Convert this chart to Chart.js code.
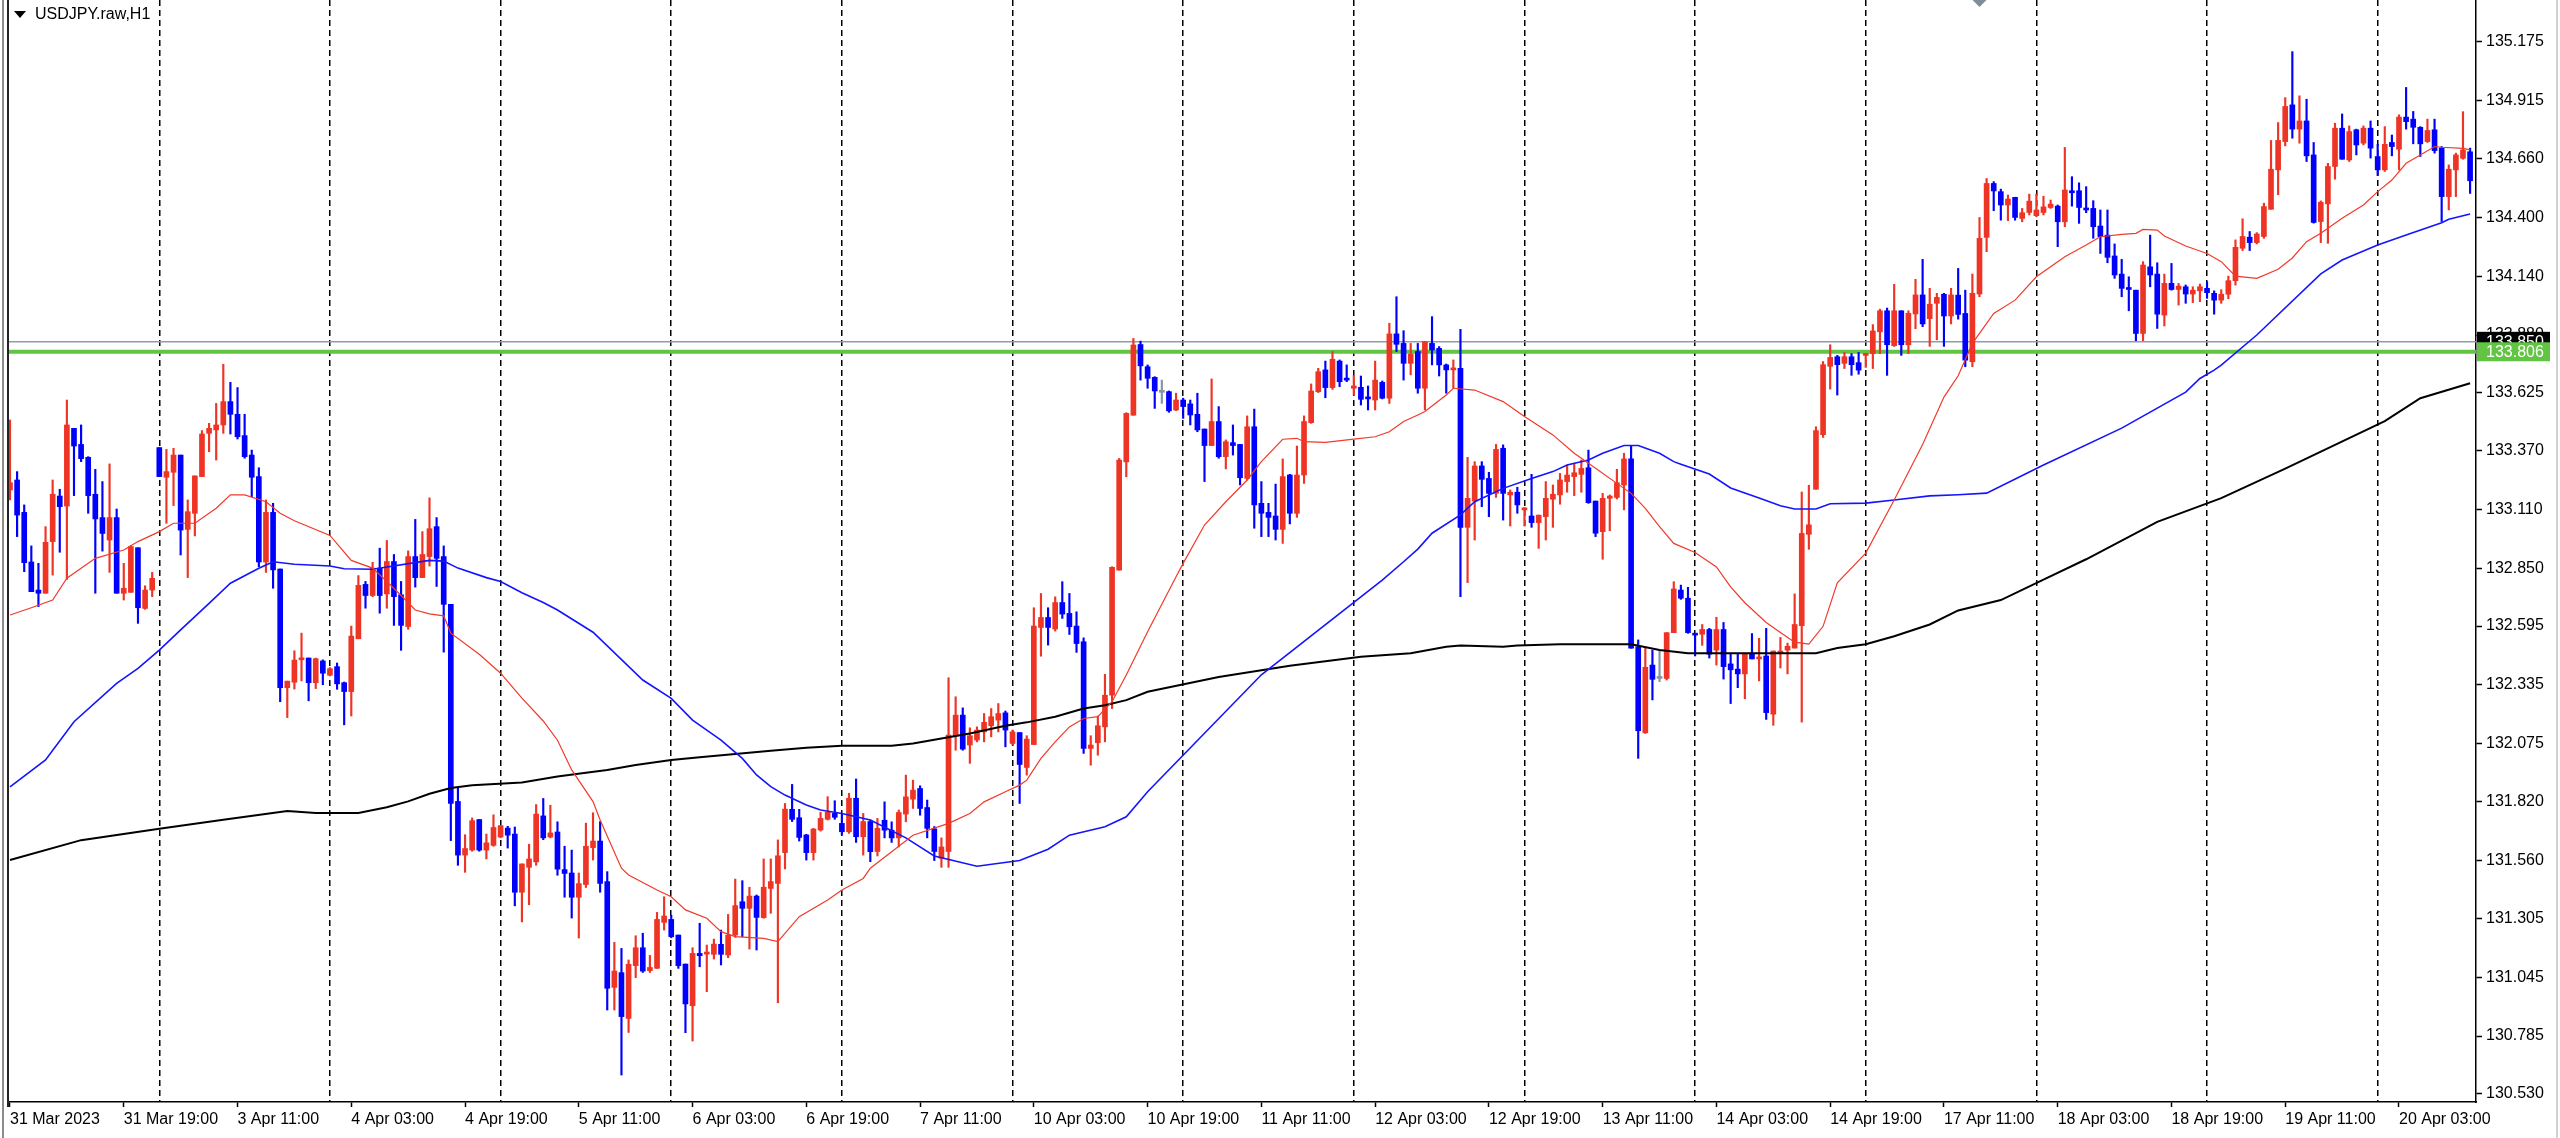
<!DOCTYPE html>
<html>
<head>
<meta charset="utf-8">
<title>USDJPY.raw,H1</title>
<script src="https://cdn.jsdelivr.net/npm/chart.js@4.4.1/dist/chart.umd.min.js"></script>
<style>
    html, body { margin: 0; padding: 0; background: #ffffff; overflow: hidden; }
    #wrap { position: relative; width: 2560px; height: 1138px; }
</style>
</head>
<body>
<div id="wrap"><canvas id="priceChart" width="2560" height="1138"></canvas></div>
<script>
// ============================================
// DATA  (H1 bars, bar 0 = 31 Mar 2023 03:00)
// ============================================
const chartTitle = 'USDJPY.raw,H1';

const opens = [
    133.196, 133.240, 133.097, 132.878, 132.754, 132.740, 132.968, 133.169, 133.125, 133.468,
    133.397, 133.340, 133.177, 133.074, 132.975, 133.074, 132.740, 132.744, 132.941, 132.673,
    132.754, 133.383, 133.252, 133.274, 133.350, 133.022, 133.093, 133.255, 133.446, 133.461,
    133.483, 133.586, 133.530, 133.436, 133.350, 133.255, 132.878, 133.097, 132.847, 132.323,
    132.347, 132.446, 132.454, 132.345, 132.441, 132.378, 132.416, 132.345, 132.306, 132.539,
    132.779, 132.730, 132.851, 132.737, 132.880, 132.733, 132.593, 132.902, 132.809, 132.902,
    133.034, 132.902, 132.691, 131.821, 131.584, 131.606, 131.741, 131.606, 131.627, 131.664,
    131.703, 131.677, 131.420, 131.530, 131.554, 131.757, 131.664, 131.686, 131.520, 131.505,
    131.398, 131.454, 131.617, 131.646, 131.467, 131.000, 131.065, 130.863, 131.096, 131.175,
    131.074, 131.084, 131.287, 131.300, 131.231, 131.103, 130.919, 131.150, 131.147, 131.146,
    131.190, 131.143, 131.231, 131.378, 131.349, 131.403, 131.308, 131.437, 131.459, 131.595,
    131.786, 131.749, 131.673, 131.595, 131.695, 131.742, 131.768, 131.724, 131.687, 131.835,
    131.665, 131.732, 131.600, 131.738, 131.694, 131.660, 131.765, 131.831, 131.878, 131.794,
    131.700, 131.570, 131.600, 132.111, 132.202, 132.070, 132.092, 132.128, 132.155, 132.180,
    132.212, 132.077, 132.125, 131.971, 132.072, 132.589, 132.633, 132.582, 132.699, 132.651,
    132.595, 132.526, 132.055, 132.080, 132.150, 132.290, 132.842, 133.320, 133.526, 133.838,
    133.740, 133.693, 133.627, 133.630, 133.549, 133.593, 133.576, 133.530, 133.465, 133.392,
    133.498, 133.343, 133.405, 133.397, 133.247, 133.475, 133.137, 133.097, 133.081, 133.022,
    133.262, 133.093, 133.262, 133.493, 133.630, 133.726, 133.648, 133.765, 133.686, 133.645,
    133.649, 133.603, 133.593, 133.671, 133.601, 133.885, 133.843, 133.755, 133.807, 133.645,
    133.843, 133.821, 133.748, 133.726, 133.733, 133.031, 133.147, 133.302, 133.247, 133.181,
    133.380, 133.174, 133.186, 133.108, 133.081, 133.052, 133.078, 133.155, 133.174, 133.233,
    133.255, 133.265, 133.294, 133.147, 133.012, 133.159, 133.163, 133.218, 133.333, 132.504,
    132.124, 132.423, 132.364, 132.364, 132.566, 132.754, 132.718, 132.562, 132.559, 132.580,
    132.489, 132.580, 132.428, 132.405, 132.384, 132.475, 132.450, 132.463, 132.206, 132.475,
    132.489, 132.498, 132.597, 133.000, 133.199, 133.440, 133.742, 133.784, 133.755, 133.784,
    133.758, 133.790, 133.798, 133.894, 133.987, 133.833, 133.987, 133.837, 133.973, 134.057,
    133.952, 134.020, 134.060, 133.964, 134.056, 133.975, 133.762, 134.061, 134.311, 134.549,
    134.513, 134.454, 134.488, 134.395, 134.421, 134.407, 134.421, 134.443, 134.449, 134.380,
    134.517, 134.517, 134.439, 134.439, 134.361, 134.321, 134.229, 134.149, 134.086, 134.078,
    133.887, 134.181, 134.149, 133.968, 134.108, 134.081, 134.093, 134.061, 134.075, 134.086,
    134.064, 134.034, 134.060, 134.120, 134.263, 134.312, 134.288, 134.315, 134.435, 134.609,
    134.734, 134.896, 134.789, 134.825, 134.675, 134.381, 134.459, 134.624, 134.793, 134.653,
    134.786, 134.727, 134.793, 134.668, 134.609, 134.730, 134.700, 134.842, 134.833, 134.797,
    134.734, 134.786, 134.705, 134.491, 134.609, 134.660, 134.689
];

const highs = [
    133.505, 133.277, 133.130, 132.949, 132.872, 133.034, 133.240, 133.199, 133.593, 133.468,
    133.483, 133.343, 133.287, 133.233, 133.311, 133.112, 132.872, 132.950, 132.941, 132.773,
    132.832, 133.383, 133.375, 133.380, 133.350, 133.152, 133.258, 133.458, 133.490, 133.578,
    133.751, 133.671, 133.648, 133.530, 133.372, 133.294, 133.152, 133.137, 132.847, 132.352,
    132.486, 132.564, 132.454, 132.454, 132.446, 132.412, 132.432, 132.348, 132.595, 132.818,
    132.792, 132.877, 132.939, 132.973, 132.911, 132.792, 132.927, 133.066, 133.012, 133.161,
    133.074, 132.949, 132.691, 131.880, 131.674, 131.748, 131.741, 131.677, 131.762, 131.714,
    131.711, 131.708, 131.545, 131.632, 131.807, 131.834, 131.804, 131.731, 131.623, 131.606,
    131.505, 131.725, 131.771, 131.732, 131.511, 131.199, 131.172, 131.121, 131.228, 131.239,
    131.141, 131.331, 131.400, 131.319, 131.231, 131.103, 131.175, 131.283, 131.187, 131.213,
    131.253, 131.322, 131.478, 131.471, 131.442, 131.408, 131.567, 131.567, 131.651, 131.812,
    131.896, 131.786, 131.676, 131.702, 131.773, 131.842, 131.824, 131.768, 131.857, 131.920,
    131.768, 131.739, 131.746, 131.819, 131.731, 131.783, 131.937, 131.915, 131.890, 131.827,
    131.710, 131.660, 132.367, 132.283, 132.234, 132.146, 132.150, 132.209, 132.231, 132.253,
    132.220, 132.136, 132.125, 132.111, 132.676, 132.739, 132.676, 132.724, 132.791, 132.739,
    132.658, 132.543, 132.111, 132.198, 132.382, 132.857, 133.335, 133.537, 133.865, 133.853,
    133.748, 133.696, 133.681, 133.633, 133.623, 133.601, 133.593, 133.623, 133.465, 133.686,
    133.564, 133.417, 133.483, 133.397, 133.523, 133.553, 133.233, 133.137, 133.222, 133.333,
    133.265, 133.390, 133.523, 133.664, 133.733, 133.765, 133.807, 133.770, 133.748, 133.701,
    133.699, 133.655, 133.765, 133.677, 133.932, 134.049, 133.899, 133.843, 133.843, 133.851,
    133.961, 133.829, 133.752, 133.770, 133.905, 133.340, 133.321, 133.321, 133.274, 133.397,
    133.395, 133.196, 133.208, 133.118, 133.265, 133.085, 133.233, 133.218, 133.269, 133.306,
    133.314, 133.328, 133.372, 133.147, 133.181, 133.174, 133.287, 133.358, 133.392, 132.534,
    132.497, 132.489, 132.489, 132.566, 132.791, 132.776, 132.766, 132.562, 132.602, 132.585,
    132.634, 132.611, 132.475, 132.475, 132.475, 132.562, 132.541, 132.585, 132.485, 132.545,
    132.520, 132.737, 133.187, 133.217, 133.475, 133.763, 133.837, 133.790, 133.803, 133.798,
    133.803, 133.798, 133.926, 133.994, 133.999, 134.104, 133.987, 133.987, 134.126, 134.214,
    134.086, 134.064, 134.064, 134.086, 134.174, 134.078, 134.149, 134.399, 134.571, 134.557,
    134.524, 134.498, 134.488, 134.439, 134.502, 134.502, 134.493, 134.476, 134.454, 134.708,
    134.579, 134.552, 134.535, 134.473, 134.432, 134.432, 134.282, 134.214, 134.137, 134.078,
    134.204, 134.321, 134.199, 134.149, 134.196, 134.108, 134.101, 134.093, 134.105, 134.115,
    134.075, 134.080, 134.140, 134.300, 134.393, 134.337, 134.332, 134.462, 134.739, 134.818,
    134.928, 135.131, 134.936, 134.921, 134.730, 134.472, 134.638, 134.815, 134.856, 134.803,
    134.789, 134.803, 134.825, 134.722, 134.800, 134.763, 134.852, 134.973, 134.867, 134.800,
    134.833, 134.833, 134.712, 134.631, 134.683, 134.866, 134.705
];

const lows = [
    133.152, 132.990, 132.835, 132.747, 132.681, 132.740, 132.820, 132.921, 132.801, 133.171,
    133.321, 133.093, 132.740, 132.926, 132.832, 132.740, 132.710, 132.744, 132.607, 132.669,
    132.725, 133.255, 133.049, 133.127, 132.909, 132.809, 132.993, 133.255, 133.365, 133.328,
    133.446, 133.443, 133.421, 133.336, 133.166, 132.857, 132.832, 132.762, 132.261, 132.191,
    132.317, 132.353, 132.265, 132.319, 132.336, 132.375, 132.316, 132.159, 132.198, 132.539,
    132.674, 132.725, 132.652, 132.674, 132.598, 132.488, 132.581, 132.767, 132.809, 132.860,
    132.770, 132.480, 131.648, 131.539, 131.508, 131.601, 131.601, 131.567, 131.623, 131.660,
    131.615, 131.360, 131.289, 131.365, 131.539, 131.652, 131.660, 131.495, 131.398, 131.306,
    131.218, 131.441, 131.562, 131.420, 130.900, 130.900, 130.613, 130.801, 131.043, 131.066,
    131.066, 131.084, 131.253, 131.219, 131.084, 130.800, 130.763, 131.091, 130.981, 131.125,
    131.099, 131.131, 131.221, 131.224, 131.169, 131.165, 131.305, 131.327, 130.932, 131.523,
    131.732, 131.646, 131.562, 131.562, 131.690, 131.739, 131.742, 131.673, 131.680, 131.640,
    131.584, 131.555, 131.580, 131.660, 131.640, 131.620, 131.731, 131.790, 131.760, 131.660,
    131.560, 131.530, 131.530, 132.047, 132.047, 131.989, 132.084, 132.084, 132.106, 132.128,
    132.062, 132.070, 131.812, 131.937, 132.072, 132.462, 132.511, 132.573, 132.629, 132.558,
    132.479, 132.033, 131.981, 132.025, 132.084, 132.231, 132.842, 133.254, 133.526, 133.681,
    133.645, 133.556, 133.578, 133.539, 133.546, 133.512, 133.483, 133.453, 133.233, 133.392,
    133.336, 133.289, 133.350, 133.218, 133.240, 133.027, 132.990, 132.990, 132.975, 132.960,
    133.046, 133.075, 133.225, 133.490, 133.626, 133.603, 133.640, 133.652, 133.674, 133.615,
    133.571, 133.549, 133.549, 133.598, 133.578, 133.807, 133.681, 133.704, 133.623, 133.549,
    133.748, 133.699, 133.623, 133.645, 132.725, 132.787, 132.975, 133.122, 133.078, 133.163,
    133.063, 133.037, 133.093, 133.037, 133.031, 132.938, 132.975, 133.031, 133.133, 133.186,
    133.171, 133.186, 133.137, 132.990, 132.890, 133.016, 133.156, 133.108, 132.497, 132.011,
    132.121, 132.269, 132.350, 132.357, 132.566, 132.713, 132.563, 132.463, 132.510, 132.454,
    132.423, 132.361, 132.253, 132.323, 132.274, 132.450, 132.353, 132.183, 132.157, 132.410,
    132.384, 132.498, 132.171, 132.934, 133.199, 133.428, 133.641, 133.615, 133.732, 133.702,
    133.707, 133.737, 133.732, 133.798, 133.702, 133.830, 133.790, 133.798, 133.908, 133.917,
    133.830, 133.859, 133.830, 133.929, 133.950, 133.740, 133.740, 134.049, 134.248, 134.429,
    134.387, 134.385, 134.387, 134.380, 134.410, 134.402, 134.410, 134.439, 134.270, 134.358,
    134.449, 134.373, 134.420, 134.307, 134.240, 134.199, 134.130, 134.049, 133.987, 133.855,
    133.855, 134.093, 133.909, 133.920, 134.078, 134.012, 134.020, 134.023, 134.027, 134.042,
    133.972, 134.020, 134.040, 134.100, 134.253, 134.253, 134.282, 134.307, 134.435, 134.499,
    134.715, 134.749, 134.727, 134.646, 134.374, 134.288, 134.285, 134.568, 134.656, 134.646,
    134.675, 134.719, 134.661, 134.584, 134.602, 134.671, 134.609, 134.789, 134.724, 134.668,
    134.730, 134.683, 134.381, 134.432, 134.491, 134.656, 134.505
];

const closes = [
    133.228, 133.085, 132.875, 132.747, 132.740, 132.965, 133.177, 133.122, 133.483, 133.390,
    133.334, 133.171, 133.068, 133.004, 133.074, 132.740, 132.762, 132.946, 132.676, 132.754,
    132.806, 133.255, 133.277, 133.350, 133.019, 133.100, 133.258, 133.443, 133.468, 133.483,
    133.586, 133.530, 133.431, 133.343, 133.252, 132.878, 133.097, 132.843, 132.323, 132.352,
    132.445, 132.454, 132.345, 132.451, 132.387, 132.407, 132.340, 132.306, 132.551, 132.775,
    132.730, 132.851, 132.730, 132.880, 132.725, 132.598, 132.902, 132.809, 132.911, 133.025,
    132.894, 132.691, 131.812, 131.584, 131.613, 131.736, 131.606, 131.638, 131.706, 131.714,
    131.672, 131.420, 131.545, 131.567, 131.765, 131.660, 131.682, 131.522, 131.503, 131.398,
    131.458, 131.623, 131.646, 131.459, 130.996, 131.072, 130.871, 131.102, 131.175, 131.072,
    131.088, 131.300, 131.315, 131.224, 131.096, 130.927, 131.150, 131.140, 131.153, 131.191,
    131.146, 131.231, 131.361, 131.349, 131.403, 131.309, 131.442, 131.467, 131.581, 131.787,
    131.742, 131.662, 131.595, 131.699, 131.746, 131.773, 131.751, 131.687, 131.835, 131.665,
    131.732, 131.599, 131.702, 131.694, 131.660, 131.772, 131.841, 131.871, 131.790, 131.702,
    131.600, 131.620, 132.114, 132.202, 132.052, 132.111, 132.136, 132.170, 132.195, 132.209,
    132.136, 132.128, 131.984, 132.096, 132.595, 132.633, 132.589, 132.699, 132.648, 132.592,
    132.518, 132.055, 132.070, 132.155, 132.290, 132.854, 133.328, 133.534, 133.836, 133.744,
    133.689, 133.633, 133.627, 133.545, 133.593, 133.564, 133.527, 133.461, 133.392, 133.498,
    133.343, 133.409, 133.392, 133.250, 133.475, 133.130, 133.093, 133.075, 133.022, 133.255,
    133.093, 133.262, 133.498, 133.633, 133.718, 133.648, 133.773, 133.674, 133.681, 133.655,
    133.596, 133.598, 133.681, 133.601, 133.885, 133.839, 133.755, 133.796, 133.645, 133.851,
    133.814, 133.748, 133.726, 133.733, 133.031, 133.159, 133.302, 133.243, 133.181, 133.375,
    133.181, 133.186, 133.130, 133.115, 133.052, 133.085, 133.159, 133.177, 133.240, 133.262,
    133.272, 133.291, 133.140, 133.005, 133.159, 133.169, 133.228, 133.333, 132.497, 132.133,
    132.413, 132.360, 132.364, 132.566, 132.759, 132.718, 132.566, 132.555, 132.580, 132.471,
    132.580, 132.416, 132.402, 132.384, 132.475, 132.450, 132.457, 132.213, 132.485, 132.485,
    132.506, 132.602, 133.004, 133.042, 133.458, 133.749, 133.781, 133.749, 133.784, 133.749,
    133.725, 133.797, 133.898, 133.987, 133.837, 133.987, 133.837, 133.976, 134.057, 133.929,
    134.016, 134.046, 133.964, 134.057, 133.971, 133.769, 134.064, 134.307, 134.549, 134.516,
    134.454, 134.480, 134.399, 134.420, 134.471, 134.432, 134.446, 134.458, 134.380, 134.520,
    134.508, 134.443, 134.432, 134.358, 134.314, 134.223, 134.145, 134.086, 134.081, 133.887,
    134.189, 134.145, 133.972, 134.108, 134.081, 134.096, 134.061, 134.078, 134.093, 134.067,
    134.034, 134.060, 134.120, 134.267, 134.315, 134.288, 134.326, 134.447, 134.612, 134.739,
    134.889, 134.789, 134.825, 134.671, 134.377, 134.466, 134.624, 134.793, 134.656, 134.778,
    134.719, 134.793, 134.705, 134.609, 134.722, 134.712, 134.842, 134.822, 134.797, 134.724,
    134.783, 134.694, 134.491, 134.612, 134.675, 134.697, 134.561
];

// Moving averages (bar index, price)
const maFastBars = [0, 3, 6, 8, 12, 16, 18, 21, 23, 26, 29, 31, 33, 36, 38, 40, 45, 48, 51, 53, 56, 57, 59, 61, 62, 66, 69, 72, 75, 77, 79, 82, 83, 86, 87, 91, 93, 95, 98, 100, 102, 106, 108, 111, 115, 117, 120, 121, 127, 132, 135, 137, 140, 142, 143, 145, 147, 149, 151, 153, 155, 157, 160, 164, 165, 168, 171, 174, 176, 179, 181, 182, 185, 189, 192, 194, 196, 198, 199, 202, 203, 206, 210, 213, 217, 220, 223, 226, 228, 230, 232, 234, 237, 240, 242, 244, 247, 249, 251, 253, 255, 257, 261, 265, 269, 272, 274, 276, 279, 282, 285, 289, 292, 294, 297, 299, 300, 302, 303, 306, 309, 311, 313, 316, 319, 321, 323, 325, 328, 331, 333, 335, 337, 339, 341, 342, 345, 346];
const maFastValues = [132.644, 132.676, 132.710, 132.806, 132.894, 132.931, 132.968, 133.012, 133.049, 133.049, 133.115, 133.174, 133.174, 133.144, 133.093, 133.060, 132.995, 132.885, 132.851, 132.792, 132.699, 132.666, 132.649, 132.640, 132.564, 132.471, 132.387, 132.277, 132.176, 132.091, 131.960, 131.820, 131.739, 131.526, 131.496, 131.430, 131.400, 131.342, 131.305, 131.246, 131.224, 131.216, 131.202, 131.312, 131.386, 131.430, 131.481, 131.526, 131.672, 131.724, 131.768, 131.819, 131.864, 131.893, 131.915, 132.011, 132.084, 132.150, 132.187, 132.195, 132.261, 132.379, 132.570, 132.813, 132.872, 133.041, 133.144, 133.240, 133.321, 133.420, 133.424, 133.409, 133.406, 133.420, 133.431, 133.453, 133.498, 133.527, 133.542, 133.615, 133.645, 133.637, 133.586, 133.520, 133.439, 133.358, 133.292, 133.225, 133.181, 133.115, 133.034, 132.960, 132.920, 132.856, 132.768, 132.698, 132.611, 132.567, 132.524, 132.515, 132.594, 132.786, 132.917, 133.152, 133.397, 133.606, 133.700, 133.843, 133.975, 134.034, 134.137, 134.226, 134.277, 134.314, 134.324, 134.329, 134.346, 134.343, 134.317, 134.273, 134.240, 134.204, 134.140, 134.130, 134.170, 134.220, 134.292, 134.329, 134.395, 134.454, 134.513, 134.564, 134.638, 134.675, 134.712, 134.709, 134.704, 134.697];

const maMidBars = [0, 5, 9, 15, 18, 21, 24, 28, 31, 35, 37, 40, 45, 47, 51, 59, 61, 63, 67, 69, 72, 75, 77, 82, 89, 93, 96, 100, 103, 105, 107, 109, 112, 114, 117, 121, 126, 130, 136, 142, 146, 149, 154, 157, 160, 176, 193, 196, 198, 200, 204, 206, 210, 214, 217, 219, 222, 224, 227, 229, 232, 234, 235, 239, 242, 246, 249, 251, 254, 256, 261, 265, 270, 274, 278, 286, 297, 306, 308, 310, 311, 316, 325, 328, 333, 337, 342, 343, 346];
const maMidValues = [131.885, 132.004, 132.173, 132.342, 132.408, 132.489, 132.578, 132.695, 132.784, 132.850, 132.879, 132.868, 132.860, 132.848, 132.846, 132.885, 132.882, 132.851, 132.809, 132.792, 132.742, 132.699, 132.666, 132.568, 132.357, 132.276, 132.180, 132.092, 132.011, 131.938, 131.886, 131.849, 131.805, 131.783, 131.768, 131.739, 131.660, 131.580, 131.535, 131.560, 131.610, 131.672, 131.709, 131.753, 131.864, 132.380, 132.798, 132.879, 132.935, 133.005, 133.086, 133.144, 133.203, 133.247, 133.277, 133.306, 133.328, 133.358, 133.392, 133.392, 133.358, 133.321, 133.310, 133.266, 133.205, 133.161, 133.126, 133.112, 133.112, 133.135, 133.138, 133.152, 133.170, 133.175, 133.182, 133.306, 133.469, 133.628, 133.688, 133.725, 133.747, 133.880, 134.150, 134.211, 134.277, 134.322, 134.376, 134.391, 134.414];

const maSlowBars = [0, 10, 21, 30, 39, 43, 49, 53, 56, 59, 62, 65, 72, 77, 81, 84, 88, 93, 97, 102, 107, 112, 117, 124, 127, 131, 135, 140, 143, 147, 151, 154, 157, 160, 170, 180, 190, 197, 202, 204, 210, 212, 218, 228, 232, 236, 254, 257, 261, 265, 270, 274, 280, 286, 292, 302, 311, 320, 334, 339, 346];
const maSlowValues = [131.562, 131.650, 131.700, 131.740, 131.779, 131.770, 131.770, 131.795, 131.821, 131.855, 131.880, 131.892, 131.905, 131.931, 131.948, 131.960, 131.982, 132.004, 132.016, 132.030, 132.045, 132.058, 132.067, 132.067, 132.077, 132.099, 132.121, 132.155, 132.170, 132.195, 132.231, 132.246, 132.268, 132.305, 132.370, 132.420, 132.460, 132.475, 132.504, 132.509, 132.504, 132.509, 132.515, 132.515, 132.489, 132.475, 132.475, 132.498, 132.515, 132.550, 132.602, 132.664, 132.710, 132.800, 132.890, 133.055, 133.160, 133.290, 133.500, 133.601, 133.667];

// Axis ticks
const xTickBars = [0, 16, 32, 48, 64, 80, 96, 112, 128, 144, 160, 176, 192, 208, 224, 240, 256, 272, 288, 304, 320, 336];
const xTickLabels = ['31 Mar 2023', '31 Mar 19:00', '3 Apr 11:00', '4 Apr 03:00', '4 Apr 19:00', '5 Apr 11:00',
    '6 Apr 03:00', '6 Apr 19:00', '7 Apr 11:00', '10 Apr 03:00', '10 Apr 19:00', '11 Apr 11:00',
    '12 Apr 03:00', '12 Apr 19:00', '13 Apr 11:00', '14 Apr 03:00', '14 Apr 19:00', '17 Apr 11:00',
    '18 Apr 03:00', '18 Apr 19:00', '19 Apr 11:00', '20 Apr 03:00'];
const daySeparatorBars = [21, 45, 69, 93, 117, 141, 165, 189, 213, 237, 261, 285, 309, 333];
const yTickValues = [135.175, 134.915, 134.660, 134.400, 134.140, 133.880, 133.625, 133.370, 133.110,
    132.850, 132.595, 132.335, 132.075, 131.820, 131.560, 131.305, 131.045, 130.785, 130.530];

// Horizontal levels
const levelGreen = 133.806;
const levelGray = 133.850;
const markerBar = 277;

// ============================================
// CONFIGURATION
// ============================================
const X_MIN = -0.14;
const X_MAX = 346.83;
const Y_MIN = 130.494;
const Y_MAX = 135.359;

const COLORS = {
    up: '#ee3424',
    down: '#0000ff',
    doji: '#8794a6',
    maFast: '#f03a2a',
    maMid: '#1414ff',
    maSlow: '#000000',
    green: '#62c443',
    gray: '#8e9bb0'
};

const FONT = '"Liberation Sans", Arial, sans-serif';

Chart.defaults.font.family = FONT;
Chart.defaults.font.size = 16;
Chart.defaults.color = '#000000';

// ============================================
// HELPERS
// ============================================
const barIndex = opens.map((_, i) => i);

function candleColor(i) {
    if (closes[i] > opens[i]) return COLORS.up;
    if (closes[i] < opens[i]) return COLORS.down;
    return COLORS.doji;
}

function toPoints(bars, values) {
    return bars.map((b, i) => ({ x: b, y: values[i] }));
}

function levelLine(value) {
    return [{ x: X_MIN, y: value }, { x: X_MAX, y: value }];
}

// ============================================
// OVERLAY PLUGIN (title, frame, price tags)
// ============================================
const overlayPlugin = {
    id: 'overlay',
    beforeDraw(chart) {
        const { ctx } = chart;
        ctx.save();
        ctx.fillStyle = '#000000';
        ctx.beginPath();
        ctx.moveTo(14, 11);
        ctx.lineTo(26, 11);
        ctx.lineTo(20, 18);
        ctx.closePath();
        ctx.fill();
        ctx.font = `16px ${FONT}`;
        ctx.textAlign = 'left';
        ctx.textBaseline = 'middle';
        ctx.fillText(chartTitle, 35, 15);
        ctx.restore();
    },
    afterDraw(chart) {
        const { ctx, chartArea, scales } = chart;
        ctx.save();

        // left frame lines
        ctx.fillStyle = '#8c8c8c';
        ctx.fillRect(2, 0, 2, chart.height);
        ctx.fillStyle = '#222222';
        ctx.fillRect(chartArea.left - 2, 0, 2, chartArea.bottom + 5);

        // window edge on the right
        ctx.fillStyle = '#d2d2d2';
        ctx.fillRect(chart.width - 4, 0, 2, chart.height);

        // small trade marker at the top
        const mx = scales.x.getPixelForValue(markerBar);
        ctx.fillStyle = '#7f8c9c';
        ctx.beginPath();
        ctx.moveTo(mx - 7, 0);
        ctx.lineTo(mx + 7, 0);
        ctx.lineTo(mx, 7);
        ctx.closePath();
        ctx.fill();

        // price tags on the axis
        const x0 = chartArea.right + 1;
        ctx.font = `16px ${FONT}`;
        ctx.textAlign = 'left';
        ctx.textBaseline = 'middle';

        const yGray = scales.y.getPixelForValue(levelGray);
        ctx.fillStyle = '#000000';
        ctx.fillRect(x0, yGray - 10, 73, 20);
        ctx.fillStyle = '#ffffff';
        ctx.fillText(levelGray.toFixed(3), x0 + 9, yGray + 1);

        const yGreen = scales.y.getPixelForValue(levelGreen);
        ctx.fillStyle = COLORS.green;
        ctx.fillRect(x0, yGreen - 9.5, 73, 19);
        ctx.fillStyle = '#ffffff';
        ctx.fillText(levelGreen.toFixed(3), x0 + 9, yGreen + 1);

        ctx.restore();
    }
};

// ============================================
// CHART
// ============================================
function createPriceChart() {
    const ctx = document.getElementById('priceChart');
    const barColors = barIndex.map(candleColor);

    return new Chart(ctx, {
        type: 'bar',
        data: {
            datasets: [
                {
                    type: 'line',
                    label: 'level',
                    data: levelLine(levelGreen),
                    borderColor: COLORS.green,
                    borderWidth: 4,
                    pointRadius: 0,
                    order: 5
                },
                {
                    type: 'line',
                    label: 'line',
                    data: levelLine(levelGray),
                    borderColor: COLORS.gray,
                    borderWidth: 1.5,
                    pointRadius: 0,
                    order: 5
                },
                {
                    label: 'wicks',
                    data: barIndex.map(i => ({ x: i, y: [lows[i], highs[i]] })),
                    backgroundColor: barColors,
                    barThickness: 1.5,
                    grouped: false,
                    borderWidth: 0,
                    order: 4
                },
                {
                    label: 'bodies',
                    data: barIndex.map(i => ({ x: i, y: [opens[i], closes[i]] })),
                    backgroundColor: barColors,
                    barThickness: 5,
                    minBarLength: 2,
                    grouped: false,
                    borderWidth: 0,
                    order: 3
                },
                {
                    type: 'line',
                    label: 'MA slow',
                    data: toPoints(maSlowBars, maSlowValues),
                    borderColor: COLORS.maSlow,
                    borderWidth: 2,
                    pointRadius: 0,
                    tension: 0,
                    order: 2
                },
                {
                    type: 'line',
                    label: 'MA mid',
                    data: toPoints(maMidBars, maMidValues),
                    borderColor: COLORS.maMid,
                    borderWidth: 1.6,
                    pointRadius: 0,
                    tension: 0,
                    order: 1
                },
                {
                    type: 'line',
                    label: 'MA fast',
                    data: toPoints(maFastBars, maFastValues),
                    borderColor: COLORS.maFast,
                    borderWidth: 1.2,
                    pointRadius: 0,
                    tension: 0,
                    order: 0
                }
            ]
        },
        options: {
            responsive: false,
            animation: false,
            devicePixelRatio: 1,
            events: [],
            layout: {
                padding: { left: 9, right: 0, top: 0, bottom: 0 },
                autoPadding: false
            },
            plugins: {
                legend: { display: false },
                tooltip: { enabled: false }
            },
            scales: {
                x: {
                    type: 'linear',
                    position: 'bottom',
                    min: X_MIN,
                    max: X_MAX,
                    offset: false,
                    afterBuildTicks: s => { s.ticks = xTickBars.map(v => ({ value: v })); },
                    afterFit: s => { s.height = 36; s.paddingLeft = 0; s.paddingRight = 0; },
                    ticks: {
                        autoSkip: false,
                        maxRotation: 0,
                        minRotation: 0,
                        align: 'start',
                        padding: 3,
                        color: '#000000',
                        font: { size: 16 },
                        callback: (v, i) => xTickLabels[i]
                    },
                    grid: {
                        drawOnChartArea: false,
                        drawTicks: true,
                        tickLength: 5,
                        tickColor: '#000000',
                        tickWidth: 1.5,
                        offset: false
                    },
                    border: { display: true, color: '#000000', width: 1.5 }
                },
                xsep: {
                    type: 'linear',
                    position: 'bottom',
                    min: X_MIN,
                    max: X_MAX,
                    offset: false,
                    afterBuildTicks: s => { s.ticks = daySeparatorBars.map(v => ({ value: v })); },
                    afterFit: s => { s.height = 0; s.paddingLeft = 0; s.paddingRight = 0; },
                    ticks: { display: false },
                    grid: {
                        color: '#000000',
                        lineWidth: 1.5,
                        drawTicks: false,
                        offset: false
                    },
                    border: { display: false, dash: [6, 4] }
                },
                y: {
                    type: 'linear',
                    position: 'right',
                    min: Y_MIN,
                    max: Y_MAX,
                    afterBuildTicks: s => { s.ticks = yTickValues.map(v => ({ value: v })); },
                    afterFit: s => { s.width = 84; s.paddingTop = 0; s.paddingBottom = 0; },
                    ticks: {
                        padding: 4,
                        color: '#000000',
                        font: { size: 16 },
                        callback: v => Number(v).toFixed(3)
                    },
                    grid: {
                        drawOnChartArea: false,
                        drawTicks: true,
                        tickLength: 6,
                        tickColor: '#000000',
                        tickWidth: 1.5
                    },
                    border: { display: true, color: '#000000', width: 1.5 }
                }
            }
        },
        plugins: [overlayPlugin]
    });
}

document.addEventListener('DOMContentLoaded', () => {
    createPriceChart();
});
</script>
</body>
</html>
